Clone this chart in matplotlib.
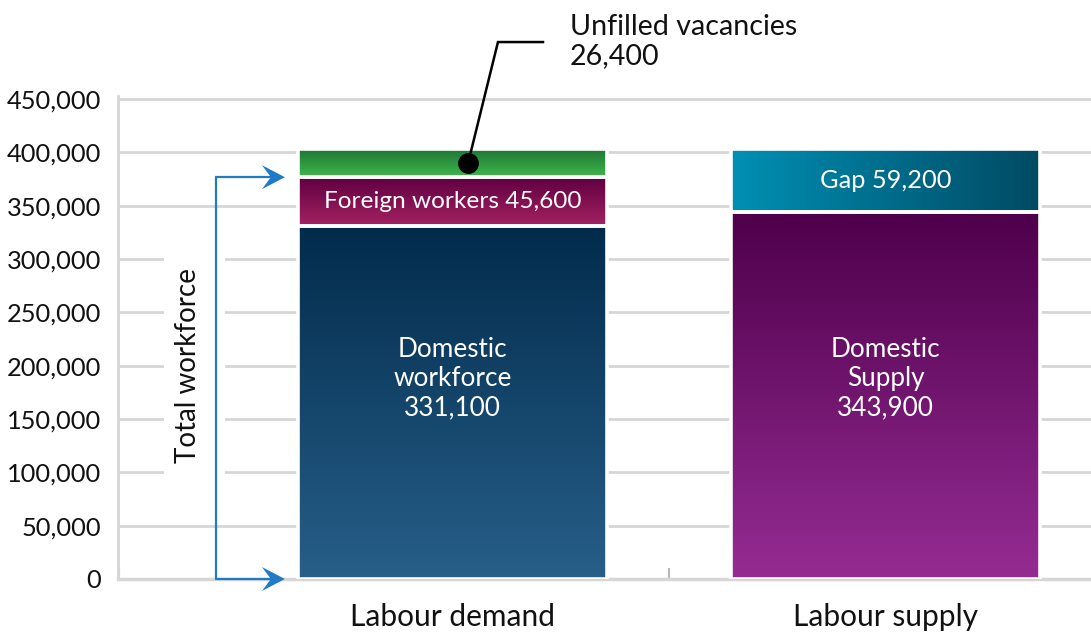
import numpy as np
import matplotlib
matplotlib.use("Agg")
import matplotlib.pyplot as plt
from matplotlib.colors import to_rgb
from matplotlib.patches import Rectangle, Polygon
from matplotlib.transforms import ScaledTranslation
from matplotlib.ticker import FixedLocator, FuncFormatter

plt.rcParams['font.family'] = ['Lato', 'DejaVu Sans']

# ---------------- data ----------------
categories = ["Labour demand", "Labour supply"]
demand_names = ["Domestic\nworkforce", "Foreign workers", "Unfilled vacancies"]
demand_values = [331100, 45600, 26400]
supply_names = ["Domestic\nSupply", "Gap"]
supply_values = [343900, 59200]
y_ticks = [0, 50000, 100000, 150000, 200000, 250000, 300000, 350000, 400000, 450000]

# gradient colours (top, bottom) / (left, right) for horizontal
demand_colors = [("#022b4b", "#275f89"), ("#5f0040", "#a52263"), ("#1b7433", "#41b64c")]
supply_colors = [("#4e004b", "#952c93"), ("#0090b4", "#004a63")]
arrow_color = "#1f7bc6"
grid_color = "#d6d6d6"

# ---------------- figure ----------------
W, H = 1091, 633
fig = plt.figure(figsize=(W / 100, H / 100), dpi=100)
ymax = 453000
ax_h_px = 480 * ymax / 450000
ax = fig.add_axes([118 / W, 54 / H, (W - 118) / W, ax_h_px / H])

xlim = (-0.7725, 1.4746)
bar_w = 0.7136


def grad_rect(x0, x1, y0, y1, c1, c2, horizontal=False):
    n = 256
    t = np.linspace(0, 1, n)[:, None]
    a = np.array(to_rgb(c1))
    b = np.array(to_rgb(c2))
    arr = a * (1 - t) + b * t
    img = arr[None, :, :] if horizontal else arr[:, None, :]
    ax.imshow(img, extent=[x0, x1, y0, y1], origin='upper', aspect='auto',
              interpolation='bilinear', zorder=2)
    ax.add_patch(Rectangle((x0, y0), x1 - x0, y1 - y0, fill=False,
                           edgecolor='white', lw=2.6, zorder=3))


# demand bar
bottom = 0
demand_bounds = []
for v, (c1, c2) in zip(demand_values, demand_colors):
    grad_rect(0 - bar_w / 2, 0 + bar_w / 2, bottom, bottom + v, c1, c2)
    demand_bounds.append((bottom, bottom + v))
    bottom += v

# supply bar
bottom = 0
supply_bounds = []
for i, (v, (c1, c2)) in enumerate(zip(supply_values, supply_colors)):
    grad_rect(1 - bar_w / 2, 1 + bar_w / 2, bottom, bottom + v, c1, c2,
              horizontal=(i == 1))
    supply_bounds.append((bottom, bottom + v))
    bottom += v

# bar labels
ax.text(0, 188000, f"{demand_names[0]}\n{demand_values[0]:,}", ha='center', va='center',
        color='white', fontsize=18.8, linespacing=1.22, zorder=5)
ax.text(0, sum(demand_bounds[1]) / 2, f"{demand_names[1]} {demand_values[1]:,}",
        ha='center', va='center', color='white', fontsize=17.6, zorder=5)
ax.text(1, 188000, f"{supply_names[0]}\n{supply_values[0]:,}", ha='center', va='center',
        color='white', fontsize=18.8, linespacing=1.22, zorder=5)
ax.text(1, sum(supply_bounds[1]) / 2, f"{supply_names[1]} {supply_values[1]:,}",
        ha='center', va='center', color='white', fontsize=18.3, zorder=5)

# unfilled vacancies callout
dot_x = 0.036
dot_y = sum(demand_bounds[2]) / 2
ax.plot([dot_x, 0.105, 0.209], [dot_y, 503400, 503400], color='black', lw=1.8,
        clip_on=False, zorder=6, solid_joinstyle='miter')
ax.plot([dot_x], [dot_y], 'o', color='black', ms=14, clip_on=False, zorder=7)
ax.text(0.271, 504000, f"{demand_names[2]}\n{demand_values[2]:,}", ha='left', va='center',
        fontsize=20.6, linespacing=1.15, color='#111111', clip_on=False)

# total workforce arrows
total_workforce = demand_values[0] + demand_values[1]
line_x = -0.546
tip_x = -0.387
head = np.array([[0, 0], [-0.23, 0.12], [-0.14, 0], [-0.23, -0.12]])  # inches
ax.plot([line_x, line_x], [0, total_workforce], color=arrow_color, lw=1.6,
        clip_on=False, zorder=6, solid_capstyle='butt')
for yy in (total_workforce, 0):
    ax.plot([line_x - 0.002, tip_x - 0.03], [yy, yy], color=arrow_color, lw=1.6,
            clip_on=False, zorder=6, solid_capstyle='butt')
    tr = fig.dpi_scale_trans + ScaledTranslation(tip_x, yy, ax.transData)
    ax.add_patch(Polygon(head, closed=True, transform=tr, fc=arrow_color, ec='none',
                         zorder=7, clip_on=False))

# white mask behind the rotated label (breaks the grid lines)
ax.add_patch(Rectangle((-0.6663, 90000), 0.1409, 215000, fc='white', ec='none', zorder=1.2))
ax.text(-0.611, 200600, "Total workforce", rotation=90, ha='center', va='center',
        fontsize=20, color='#111111', zorder=1.5)

# axes styling
ax.set_xlim(*xlim)
ax.set_ylim(0, ymax)
ax.yaxis.set_major_locator(FixedLocator(y_ticks))
ax.yaxis.set_major_formatter(FuncFormatter(lambda v, p: f"{int(v):,}"))
ax.tick_params(axis='y', length=0, labelsize=18.3, pad=12, labelcolor='#111111')
ax.set_xticks([0, 1])
ax.set_xticklabels(categories)
ax.tick_params(axis='x', which='major', length=0, labelsize=21.5, pad=17, labelcolor='#111111')
ax.set_xticks([xlim[0] + 0.002, 0.5], minor=True)
ax.tick_params(axis='x', which='minor', direction='in', length=8, width=1.5, color='#b8b8b8')

ax.set_axisbelow(True)
ax.yaxis.grid(True, color=grid_color, lw=2)
for s in ('top', 'right'):
    ax.spines[s].set_visible(False)
ax.spines['left'].set_color(grid_color)
ax.spines['left'].set_linewidth(2)
ax.spines['bottom'].set_color(grid_color)
ax.spines['bottom'].set_linewidth(2.5)
ax.spines['bottom'].set_zorder(0.6)

fig.savefig("out.png", dpi=100)
